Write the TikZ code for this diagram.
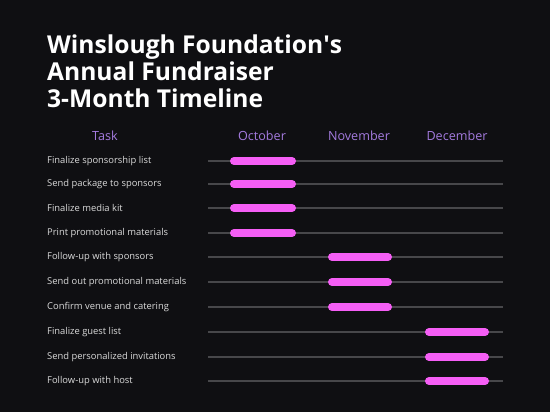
\documentclass[tikz,border=0pt]{standalone}
\usepackage{fontspec}
\setmainfont{Open Sans}
\definecolor{bg}{HTML}{0F0F12}
\definecolor{track}{HTML}{47474A}
\definecolor{bar}{HTML}{F55EF5}
\definecolor{head}{HTML}{A47BDF}
\definecolor{lbl}{HTML}{DADADA}
\tikzset{
  titletext/.style={anchor=base west,inner sep=0pt,text=white,font=\fontsize{24.6}{27}\selectfont\bfseries},
  headtext/.style={anchor=base,inner sep=0pt,text=head,font=\fontsize{12.6}{14}\selectfont},
  tasktext/.style={anchor=west,inner sep=0pt,text=lbl,font=\fontsize{9.4}{11}\selectfont},
  trackline/.style={draw=track,line width=2.2pt},
  barline/.style={draw=bar,line width=8pt,line cap=round},
}
\begin{document}
\begin{tikzpicture}[x=1pt,y=-1pt]
\fill[bg] (0,0) rectangle (550,412);
\useasboundingbox (0,0) rectangle (550,412);
\node[titletext] (t1) at (47,54) {Winslough Foundation\textquotesingle s};
\node[titletext] (t2) at (47,81) {Annual Fundraiser};
\node[titletext] (t3) at (47,108) {3-Month Timeline};
\node[headtext] (hTask) at (105,140.5) {Task};
\node[headtext] (hOct) at (262,140.5) {October};
\node[headtext] (hNov) at (359,140.5) {November};
\node[headtext] (hDec) at (457,140.5) {December};
\foreach \y/\txt/\a/\b [count=\i] in {
  161/Finalize sponsorship list/234/292,
  184/Send package to sponsors/234/292,
  208/Finalize media kit/234/292,
  233/Print promotional materials/234/292,
  257/Follow-up with sponsors/332/388,
  282/Send out promotional materials/332/388,
  307/Confirm venue and catering/332/388,
  332/Finalize guest list/429/485,
  357/Send personalized invitations/429/485,
  381/Follow-up with host/429/485}{
  \node[tasktext] (task\i) at (47,\y) {\txt};
  \draw[trackline] (208,\y) -- (503,\y);
  \draw[barline] (\a,\y) -- (\b,\y);
}
\end{tikzpicture}
\end{document}
